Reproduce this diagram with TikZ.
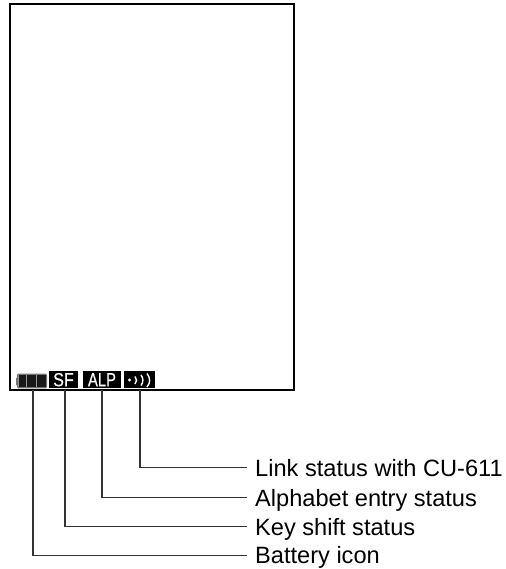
\documentclass[tikz,border=0pt]{standalone}
\usepackage{fontspec}
\usepackage{graphicx}
\setmainfont{Liberation Sans}
\newfontfamily\chipfont[FakeBold=0.6]{Liberation Sans}
\tikzset{
  frameline/.style={draw=black,line width=2pt,outer sep=0pt},
  leader/.style={draw=black!80,line width=1.4pt},
  lab/.style={anchor=west,inner sep=0pt,text height=17pt,text depth=0pt,font=\fontsize{23.6}{26}\selectfont,text=black},
  chip/.style={fill=black,text=white,inner sep=0pt,outer sep=0pt,font=\chipfont\fontsize{19}{19}\selectfont},
  wave/.style={draw=white,line width=1.4pt},
  cell/.style={fill=black!90},
}
\begin{document}
\begin{tikzpicture}[x=1pt,y=-1pt]
\useasboundingbox (0,0) rectangle (505,569);
\node[frameline,minimum width=284pt,minimum height=386pt,inner sep=0pt,anchor=north west] (screen) at (9.5,4) {};
% status icons
\node[chip,minimum width=29pt,minimum height=17.5pt] (sf) at (63.5,379.7) {\scalebox{0.85}[1]{SF}};
\node[chip,minimum width=38pt,minimum height=17.5pt] (alp) at (102,379.7) {\scalebox{0.78}[1]{ALP}};
\node[chip,minimum width=31pt,minimum height=17.5pt] (link) at (139.5,379.7) {};
\node[draw=black!55,fill=black!40,line width=1.1pt,rounded corners=1pt,minimum width=29pt,minimum height=13.5pt,inner sep=0pt,outer sep=0pt] (bat) at (32,381) {};
\fill[cell] (18.5,375.2) rectangle (26.2,386.8);
\fill[cell] (27.3,375.2) rectangle (36.2,386.8);
\fill[cell] (37.3,375.2) rectangle (45.7,386.8);
\draw[black!55,line width=1pt] (16.5,377.5) -- (16.5,384.5);
\fill[white] (129.5,380) circle (1.6pt);
\draw[wave] (135,376.5) .. controls (137,378.5) and (137,382) .. (135,384);
\draw[wave] (141,375) .. controls (143.5,378) and (143.5,382.5) .. (141,385.5);
\draw[wave] (147,373.5) .. controls (150.5,378) and (150.5,383) .. (147,387);
% connector roots on the frame
\coordinate (r1) at (33,390);
\coordinate (r2) at (65,390);
\coordinate (r3) at (102,390);
\coordinate (r4) at (140,390);
% labels
\node[lab] (l4) at (255,467.7) {Link status with CU-611};
\node[lab] (l3) at (255,497.5) {Alphabet entry status};
\node[lab] (l2) at (255,526.7) {Key shift status};
\node[lab] (l1) at (255,555.2) {Battery icon};
\draw[leader,shorten >=8pt] (r1) |- (l1.west);
\draw[leader,shorten >=8pt] (r2) |- (l2.west);
\draw[leader,shorten >=8pt] (r3) |- (l3.west);
\draw[leader,shorten >=8pt] (r4) |- (l4.west);
\end{tikzpicture}
\end{document}
